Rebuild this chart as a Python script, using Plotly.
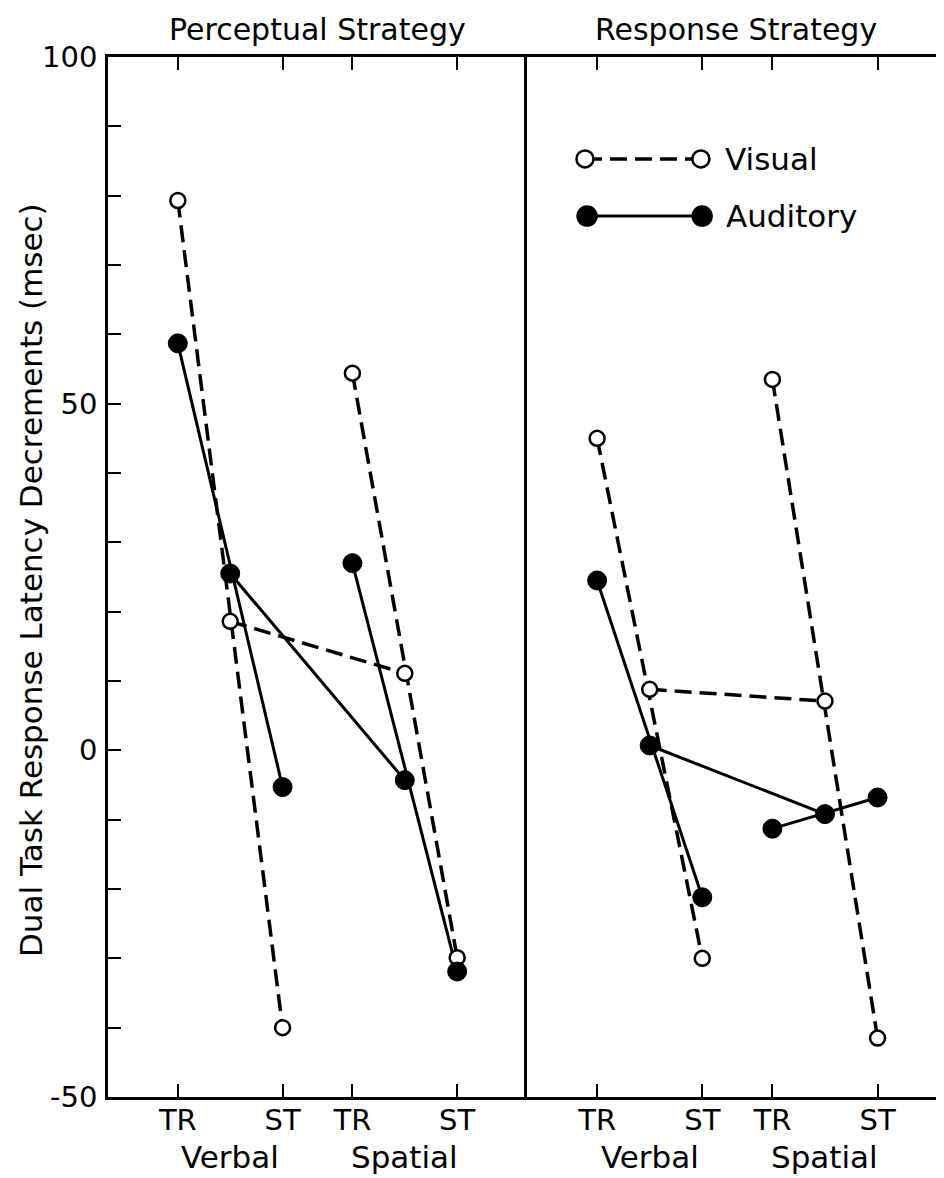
import plotly.graph_objects as go

# ---------------- data ----------------
points = ["Verbal TR", "Verbal mean", "Verbal ST", "Spatial TR", "Spatial mean", "Spatial ST"]
perceptual_visual = [79.3, 18.6, -40.0, 54.4, 11.1, -29.9]
perceptual_auditory = [58.7, 25.5, -5.3, 27.0, -4.3, -31.9]
response_visual = [45.0, 8.8, -30.0, 53.5, 7.1, -41.5]
response_auditory = [24.5, 0.7, -21.2, -11.3, -9.2, -6.8]

panel_titles = ["Perceptual Strategy", "Response Strategy"]
tick_points = ["Verbal TR", "Verbal ST", "Spatial TR", "Spatial ST"]
tick_labels = ["TR", "ST", "TR", "ST"]
task_labels = ["Verbal", "Spatial"]
series_names = ["Visual", "Auditory"]
y_tick_values = list(range(-50, 101, 10))
y_label_values = [-50, 0, 50, 100]
y_label_texts = ["-50", "0", "50", "100"]
y_title = "Dual Task Response Latency Decrements (msec)"

# ---------------- layout helpers (positions / styles) ----------------
X_POS = {"Verbal TR": 4 / 3, "Verbal mean": 7 / 3, "Verbal ST": 10 / 3,
         "Spatial TR": 14 / 3, "Spatial mean": 17 / 3, "Spatial ST": 20 / 3}
SEGMENTS = [("Verbal TR", "Verbal ST"), ("Spatial TR", "Spatial ST"), ("Verbal mean", "Spatial mean")]
FONT = "DejaVu Sans"
DASH = "17px,8px"
# the page body has an 8px margin, so the figure is 8px smaller than the window
W, H = 936, 1170
ML, MR, MT, MB = 100, 0, 49, 81
SPLIT = (519 - ML) / (W - ML - MR)

fig = go.Figure()


def add_panel(xa, ya, visual, auditory):
    for vals, dash, lw in [(visual, DASH, 3.5), (auditory, "solid", 3)]:
        xs, ys = [], []
        for a, b in SEGMENTS:
            xs += [X_POS[a], X_POS[b], None]
            ys += [vals[points.index(a)], vals[points.index(b)], None]
        fig.add_trace(go.Scatter(x=xs, y=ys, mode="lines", xaxis=xa, yaxis=ya,
                                 line=dict(color="black", width=lw, dash=dash),
                                 showlegend=False, hoverinfo="skip"))
    fig.add_trace(go.Scatter(x=[X_POS[p] for p in points], y=visual, mode="markers",
                             xaxis=xa, yaxis=ya, name=series_names[0], showlegend=False,
                             marker=dict(symbol="circle", size=15, color="white",
                                         line=dict(color="black", width=2.5))))
    fig.add_trace(go.Scatter(x=[X_POS[p] for p in points], y=auditory, mode="markers",
                             xaxis=xa, yaxis=ya, name=series_names[1], showlegend=False,
                             marker=dict(symbol="circle", size=19, color="black",
                                         line=dict(color="black", width=1))))


add_panel("x", "y", perceptual_visual, perceptual_auditory)
add_panel("x2", "y2", response_visual, response_auditory)

tickvals_x = [X_POS[p] for p in tick_points]
y_ticktext = [y_label_texts[y_label_values.index(v)] if v in y_label_values else "" for v in y_tick_values]

xcommon = dict(tickmode="array", tickvals=tickvals_x, ticktext=tick_labels, ticks="inside",
               ticklen=13, tickwidth=2, tickcolor="black", showline=True, linecolor="black",
               linewidth=2.5, mirror="ticks", showgrid=False, zeroline=False,
               tickfont=dict(family=FONT, size=29, color="black"), ticklabelstandoff=-5)

fig.update_layout(
    width=W, height=H, margin=dict(l=ML, r=MR, t=MT, b=MB),
    paper_bgcolor="white", plot_bgcolor="white", showlegend=False,
    xaxis=dict(domain=[0, SPLIT], range=[0, 8], anchor="y", **xcommon),
    xaxis2=dict(domain=[SPLIT, 1], range=[0, 7.93], anchor="y2", **xcommon),
    yaxis=dict(domain=[0, 1], range=[-50, 100], anchor="x", tickmode="array",
               tickvals=y_tick_values, ticktext=y_ticktext, ticks="inside", ticklen=13,
               tickwidth=2, tickcolor="black", showline=True, linecolor="black",
               linewidth=2.5, mirror=False, showgrid=False, zeroline=False,
               tickfont=dict(family=FONT, size=29, color="black"), ticklabelstandoff=2),
    yaxis2=dict(domain=[0, 1], range=[-50, 100], anchor="x2", showticklabels=False,
                ticks="", showline=True, linecolor="black", linewidth=2.5,
                showgrid=False, zeroline=False),
    yaxis3=dict(domain=[0, 1], range=[-50, 100], anchor="x2", overlaying="y2", side="right",
                tickmode="array", tickvals=y_tick_values, ticks="inside", ticklen=10,
                tickwidth=2, tickcolor="black", showticklabels=False, showline=False,
                showgrid=False, zeroline=False),
)

annotations = []
for i, title in enumerate(panel_titles):
    annotations.append(dict(text=title, xref=("x domain" if i == 0 else "x2 domain"), x=0.5,
                            xanchor="center", yref="paper", y=1, yanchor="middle", yshift=28,
                            showarrow=False, font=dict(family=FONT, size=30, color="black")))
for xa in ["x", "x2"]:
    for task in task_labels:
        xc = (X_POS[task + " TR"] + X_POS[task + " ST"]) / 2
        annotations.append(dict(text=task, xref=xa, x=xc, xanchor="center", yref="paper", y=0,
                                yanchor="middle", yshift=-60, showarrow=False,
                                font=dict(family=FONT, size=31, color="black")))
annotations.append(dict(text=y_title, xref="paper", x=0, xanchor="center", xshift=-(108 - 31),
                        yref="paper", y=0.5, yanchor="middle", yshift=-3, textangle=-90,
                        showarrow=False, font=dict(family=FONT, size=31, color="black")))

# legend (drawn inside the right panel)
LEG = [  # (name, y-domain, x0, x1, dash, fill, size)
    (series_names[0], 0.902, 0.139, 0.417, DASH, "white", 17),
    (series_names[1], 0.847, 0.144, 0.420, "solid", "black", 19),
]
shapes = []
for name, yd, x0, x1, dash, fill, sz in LEG:
    shapes.append(dict(type="line", xref="x2 domain", yref="y2 domain", x0=x0, x1=x1, y0=yd, y1=yd,
                       line=dict(color="black", width=3.5 if dash != "solid" else 3, dash=dash)))
    for xc in (x0, x1):
        shapes.append(dict(type="circle", xref="x2 domain", yref="y2 domain",
                           xsizemode="pixel", ysizemode="pixel", xanchor=xc, yanchor=yd,
                           x0=-sz / 2, x1=sz / 2, y0=-sz / 2, y1=sz / 2, fillcolor=fill,
                           line=dict(color="black", width=2.5)))
    annotations.append(dict(text=name, xref="x2 domain", x=x1 + 0.052, xanchor="left",
                            yref="y2 domain", y=yd, yanchor="middle", showarrow=False,
                            font=dict(family=FONT, size=31, color="black")))

fig.update_layout(annotations=annotations, shapes=shapes)
fig.write_html("out.html")
